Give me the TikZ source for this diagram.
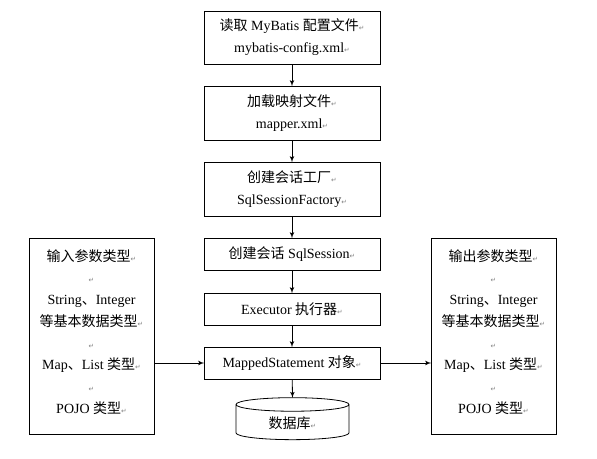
\documentclass[tikz,border=0pt]{standalone}
\usepackage{fontspec}
\setmainfont{Liberation Serif}
\newfontfamily\cjk{Noto Sans CJK SC}
\newfontfamily\symf{DejaVu Sans}
\usetikzlibrary{arrows,shapes.geometric}
\newcommand{\zh}[1]{{\cjk #1}}
\newcommand{\parmark}{{\symf\fontsize{5}{5}\selectfont\color{gray}↵}}

\begin{document}
\begin{tikzpicture}
                    [x=0.75pt, y=-0.75pt, font=\fontsize{10.5}{16.5}\selectfont]
                    \tikzset{edge/.style = {->, > = latex', line width=0.6pt, shorten >=-0.5pt},
                             box/.style = {draw, rectangle, line width=0.6pt, align=center,
                                           minimum width=132pt, inner sep=1pt},
                             side/.style = {box, minimum width=93.75pt, minimum height=147pt,
                                            font=\fontsize{10.5}{16.3}\selectfont}}
                    \useasboundingbox (0,0) rectangle (597,459);
                    \node[box, minimum height=39.75pt] (read) at (292,37.5)
                        {\zh{读取} MyBatis \zh{配置文件}\parmark\\ mybatis-config.xml\parmark};
                    \node[box, minimum height=40.5pt] (load) at (292,113)
                        {\zh{加载映射文件}\parmark\\ mapper.xml\parmark};
                    \node[box, minimum height=40.5pt] (fact) at (292,189)
                        {\zh{创建会话工厂}\parmark\\ SqlSessionFactory\parmark};
                    \node[box, minimum height=24pt] (sess) at (292,254)
                        {\zh{创建会话} SqlSession\parmark};
                    \node[box, minimum height=24pt] (exec) at (292,309)
                        {Executor \zh{执行器}\parmark};
                    \node[box, minimum height=24pt] (mst) at (292,363)
                        {MappedStatement \zh{对象}\parmark};
                    \node[draw, cylinder, shape border rotate=90, aspect=0.27, line width=0.6pt,
                          minimum width=84.75pt, minimum height=31.5pt, inner sep=1pt] (db) at (292.5,423)
                        {\zh{数据库}\parmark};
                    \node[side, text depth=7pt] (inp) at (91.5,336)
                        {\zh{输入参数类型}\parmark\\ \parmark\\ String\zh{、}Integer\\ \zh{等基本数据类型}\parmark\\
                         \parmark\\ Map\zh{、}List \zh{类型}\parmark\\ \parmark\\ POJO \zh{类型}\parmark};
                    \node[side, text depth=7pt] (outp) at (493.5,336)
                        {\zh{输出参数类型}\parmark\\ \parmark\\ String\zh{、}Integer\\ \zh{等基本数据类型}\parmark\\
                         \parmark\\ Map\zh{、}List \zh{类型}\parmark\\ \parmark\\ POJO \zh{类型}\parmark};

                    \foreach \from/\to in {read/load,load/fact,fact/sess,sess/exec,exec/mst,mst/db.north}
                        \draw[edge] (\from) to (\to);
                    \draw[edge] (mst.west -| inp.east) to (mst.west);
                    \draw[edge] (mst.east) to (mst.east -| outp.west);
                \end{tikzpicture}
\end{document}
